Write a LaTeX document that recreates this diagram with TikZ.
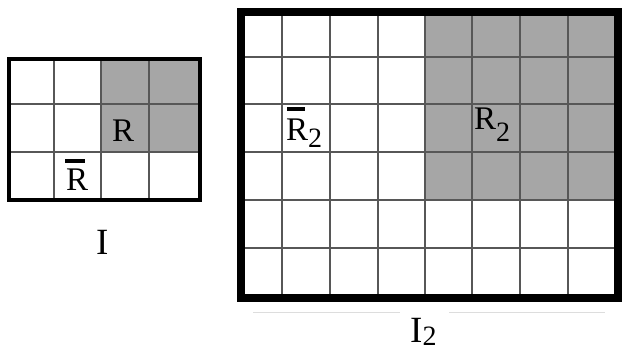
\documentclass[tikz,border=0pt]{standalone}
\usepackage{fontspec}
\setmainfont{Liberation Serif}
\definecolor{cellgray}{HTML}{A6A6A6}
\definecolor{gridc}{HTML}{575757}
\definecolor{faint}{HTML}{DDDDDD}
\tikzset{
  gridline/.style={draw=gridc, line width=2pt},
  border/.style={draw=black},
  lbl/.style={inner sep=0pt, anchor=base west, font=\fontsize{33}{33}\selectfont},
  big/.style={inner sep=0pt, anchor=base west, font=\fontsize{37}{37}\selectfont},
  barr/.style={fill=black}
}
\newcommand{\sub}[2]{\raisebox{-#1pt}{\fontsize{28}{28}\selectfont #2}}
\begin{document}
\begin{tikzpicture}[x=1pt,y=-1pt]
\useasboundingbox (0,0) rectangle (622,352);
% left grid
\fill[cellgray] (101,59.5) rectangle (199.5,152);
\foreach \x in {54,101,149} \draw[gridline] (\x,59.5) -- (\x,200.5);
\foreach \y in {104,152} \draw[gridline] (8.5,\y) -- (199.5,\y);
\draw[border, line width=4pt] (8.5,59.5) rectangle (199.5,200.5);
% right grid
\fill[cellgray] (425,12.5) rectangle (618,200);
\foreach \x in {282,330,378,425,472,520,568} \draw[gridline] (\x,12.5) -- (\x,298);
\foreach \y in {57,104,152.5,200,248} \draw[gridline] (241,\y) -- (618,\y);
\draw[border, line width=8pt] (241,12.5) rectangle (618,298);
% faint lines
\draw[faint, line width=1pt] (253,313) -- (400,313);
\draw[faint, line width=1pt] (449,313) -- (605,313);
% labels
\node[lbl] (R) at (112,142) {R};
\node[lbl] (Rbar) at (66,191) {R};
\fill[barr] (65,159) rectangle (85,163);
\node[lbl] (Rtwo) at (474,130) {R\sub{12}{2}};
\node[lbl] (Rbartwo) at (286,141) {R\sub{7}{2}};
\fill[barr] (287,107.5) rectangle (305,111.5);
\node[big] (I) at (96,255) {I};
\node[big] (Itwo) at (410,343) {I\sub{3}{2}};
\end{tikzpicture}
\end{document}
